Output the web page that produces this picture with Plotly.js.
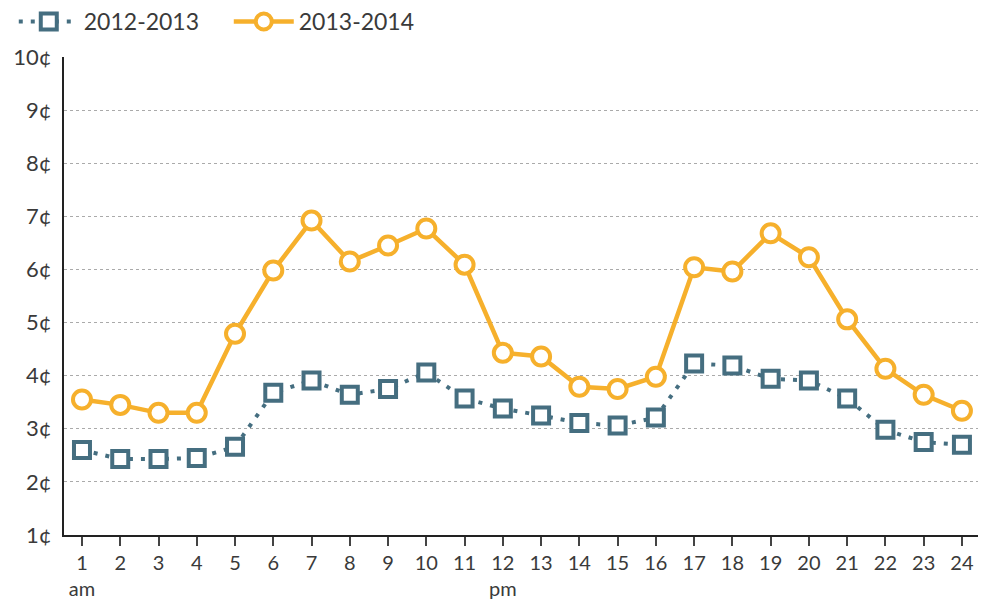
<!DOCTYPE html>
<html>
<head>
<meta charset="utf-8">
<script src="https://cdn.plot.ly/plotly-3.0.1.min.js"></script>
<style>html,body{margin:0;padding:0;background:#fff;}#chart{width:984px;height:601px;}</style>
</head>
<body>
<div id="chart"></div>
<script>
var hours = [1,2,3,4,5,6,7,8,9,10,11,12,13,14,15,16,17,18,19,20,21,22,23,24];
var tickLabels = ["1<br>am","2","3","4","5","6","7","8","9","10","11","12<br>pm","13","14","15","16","17","18","19","20","21","22","23","24"];
var series2012 = [2.60,2.43,2.43,2.45,2.66,3.68,3.91,3.64,3.75,4.06,3.57,3.38,3.25,3.11,3.06,3.21,4.23,4.19,3.94,3.91,3.57,2.98,2.75,2.70];
var series2013 = [3.55,3.45,3.30,3.30,4.79,5.98,6.92,6.15,6.45,6.77,6.09,4.43,4.36,3.79,3.75,3.98,6.04,5.96,6.68,6.23,5.06,4.13,3.64,3.34];
var yTicks = [1,2,3,4,5,6,7,8,9,10];
var yTickLabels = ["1¢","2¢","3¢","4¢","5¢","6¢","7¢","8¢","9¢","10¢"];

var blue = '#456E80', orange = '#F6B02C';
var traces = [
  {x: hours, y: series2012, name: '2012-2013', mode: 'lines+markers', type: 'scatter',
   line: {color: blue, width: 4, dash: '4px,8px'},
   marker: {symbol: 'square', size: 16, color: '#ffffff', line: {width: 4, color: blue}}},
  {x: hours, y: series2013, name: '2013-2014', mode: 'lines+markers', type: 'scatter',
   line: {color: orange, width: 4.5},
   marker: {symbol: 'circle', size: 18, color: '#ffffff', line: {width: 4, color: orange}}}
];
var layout = {
  width: 984, height: 601,
  margin: {l: 64, r: 6, t: 57, b: 66},
  paper_bgcolor: '#fff', plot_bgcolor: '#fff',
  font: {family: 'Lato, "Noto Sans", sans-serif', size: 20, color: '#3a3a3a'},
  showlegend: true,
  legend: {orientation: 'h', x: 0.014, xref: 'container', xanchor: 'left', y: 1.0, yref: 'container', yanchor: 'top',
           font: {size: 23, color: '#3a3a3a'}, itemwidth: 60, entrywidth: 140, bgcolor: 'rgba(0,0,0,0)'},
  xaxis: {range: [0.53, 24.42], tickvals: hours, ticktext: tickLabels, showgrid: false, zeroline: false,
          showline: true, linecolor: '#222', linewidth: 2, ticks: 'outside', ticklen: 9, tickwidth: 2, tickcolor: '#444',
          tickfont: {size: 20, color: '#3a3a3a'}, fixedrange: true},
  yaxis: {range: [1, 10], tickvals: yTicks, ticktext: yTickLabels, showgrid: true, gridcolor: '#aaaaaa', griddash: 'dot', gridwidth: 1,
          zeroline: false, showline: true, linecolor: '#222', linewidth: 2, ticks: '', ticklabelstandoff: 6,
          tickfont: {size: 22, color: '#3a3a3a'}, fixedrange: true}
};
Plotly.newPlot('chart', traces, layout, {displayModeBar: false, staticPlot: true});
</script>
</body>
</html>
